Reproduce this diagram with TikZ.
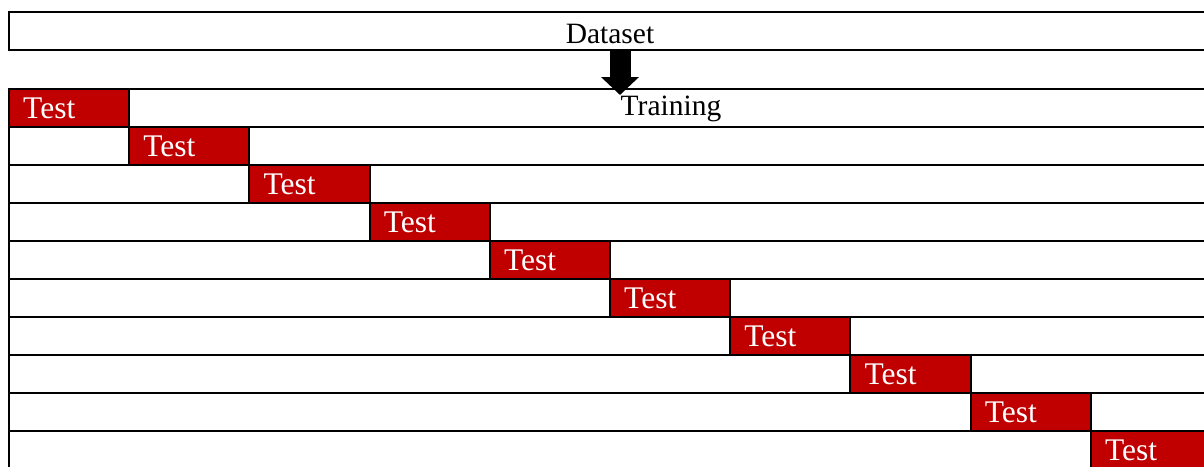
\documentclass[tikz,border=0pt]{standalone}
\usepackage{fontspec}
\setmainfont{Liberation Serif}
\usetikzlibrary{arrows.meta}
\definecolor{testred}{HTML}{C00000}
\tikzset{
  band/.style={draw=black, line width=2pt, fill=white, minimum height=38pt, inner sep=0pt, outer sep=0pt, anchor=north west},
  testbox/.style={draw=black, line width=2pt, fill=testred, minimum width=120.2pt, minimum height=38pt, inner sep=0pt, outer sep=0pt, anchor=north west},
  testlbl/.style={text=white, anchor=base west, inner sep=0pt, font=\fontsize{31.5}{31.5}\selectfont},
  lbl/.style={text=black, anchor=base, inner sep=0pt, font=\fontsize{29.5}{29.5}\selectfont},
  bigarrow/.style={line width=21pt, -{Triangle[width=37pt,length=18pt]}}
}
\begin{document}
\begin{tikzpicture}[x=1pt,y=-1pt]
\useasboundingbox (0,0) rectangle (1204,466);
\clip (0,0) rectangle (1204,466);
% dataset bar
\node[band, minimum width=1202pt, minimum height=38pt] (dataset) at (9,12) {};
\node[lbl] (dlbl) at (610,43.5) {Dataset};
% rows
\foreach \i in {0,...,9} {
  \node[band, minimum width=1202pt] (row\i) at (9,{89+38*\i}) {};
}
\node[lbl] (trlbl) at (671,115) {Training};
\foreach \i in {0,...,9} {
  \node[testbox] (t\i) at ({9+120.2*\i},{89+38*\i}) {};
  \node[testlbl] (tl\i) at ({23+120.2*\i},{118.5+38*\i}) {Test};
}
% arrow
\coordinate (tip) at (620,95);
\draw[bigarrow] (dataset.south -| tip) -- (tip);
\end{tikzpicture}
\end{document}
